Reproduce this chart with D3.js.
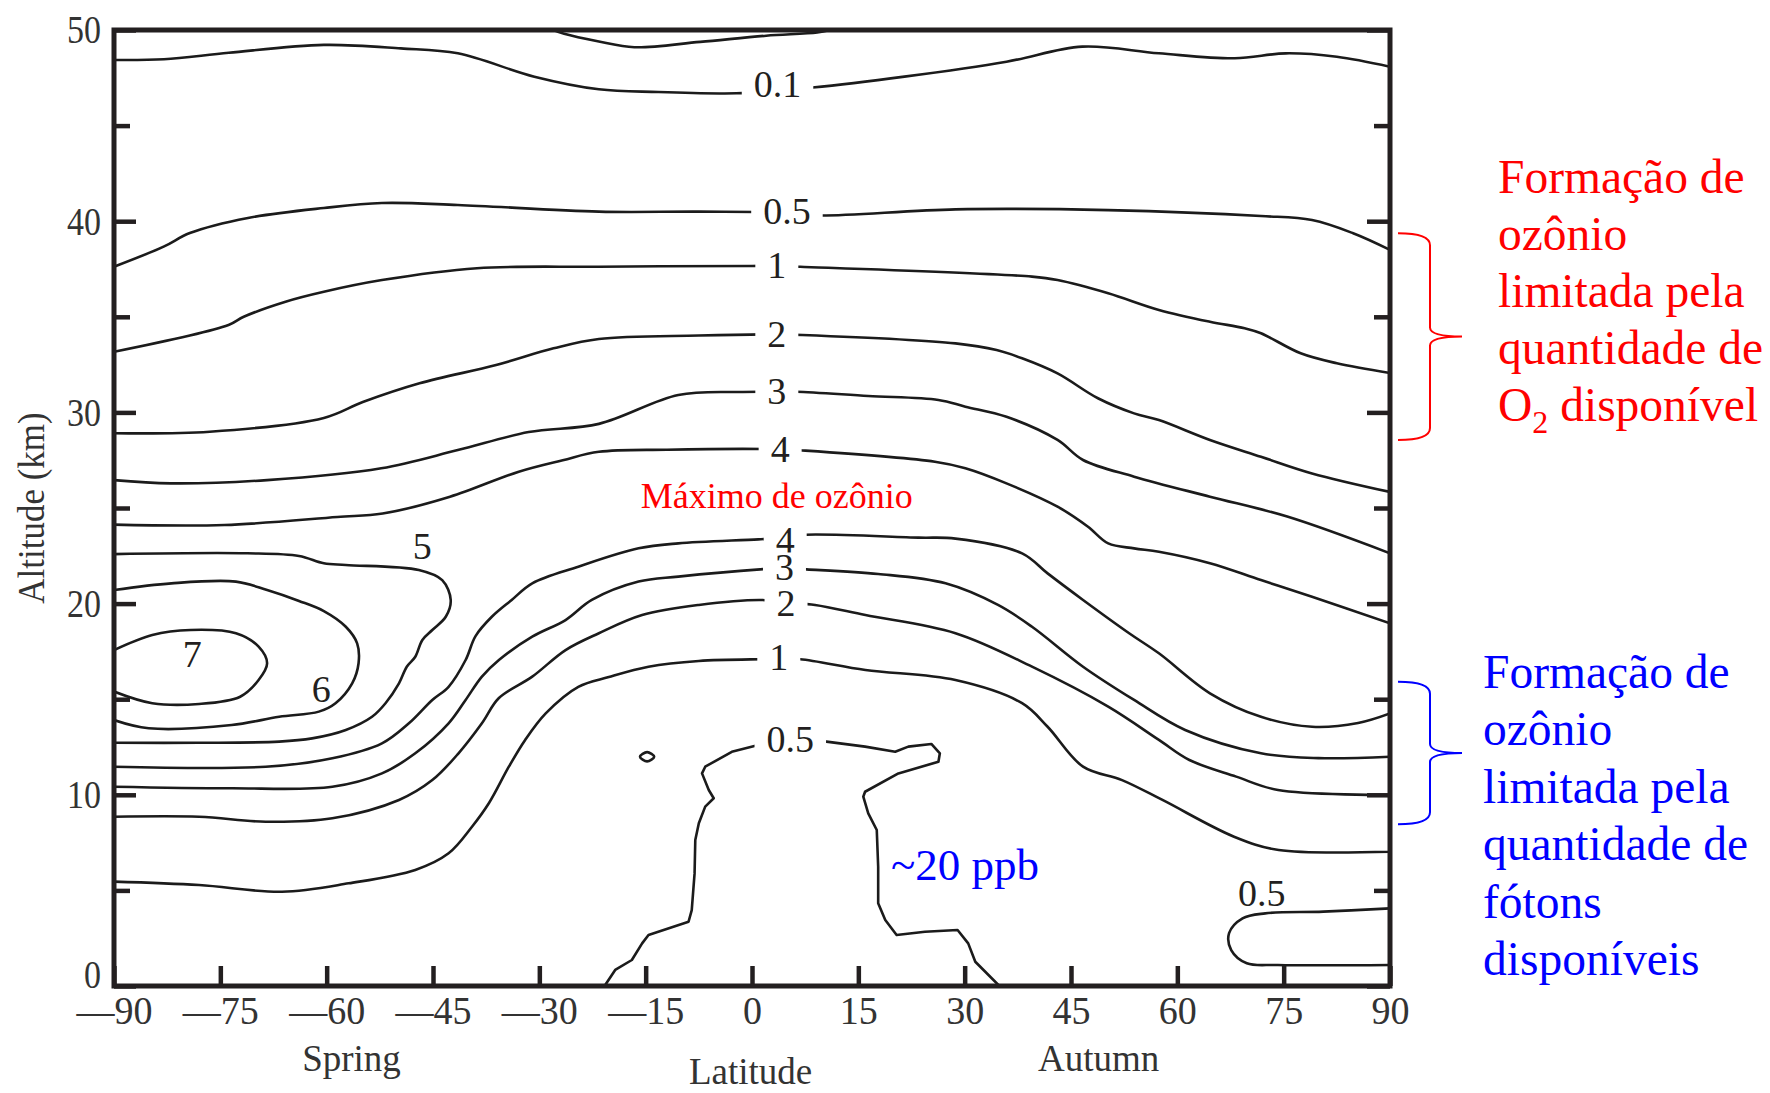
<!DOCTYPE html>
<html>
<head>
<meta charset="utf-8">
<script src="https://cdn.jsdelivr.net/npm/d3@7"></script>
<style>
  body { margin: 0; background: #fff; }
  svg { display: block; font-family: "Liberation Serif", "Times New Roman", serif; }
</style>
</head>
<body>
<div id="chart"></div>
<script>
// ozone mixing ratio contours (ppm) — latitude vs altitude
// every contour is a list of [latitude, altitude km]

const latTicks = [-90, -75, -60, -45, -30, -15, 0, 15, 30, 45, 60, 75, 90];
const altTicks = [0, 10, 20, 30, 40, 50];
const altMinorTicks = [5, 15, 25, 35, 45];

const topArc = [[-28, 50], [-26.5, 49.8], [-21.6, 49.4], [-16.6, 49.1], [-7.3, 49.38], [2, 49.7], [9.2, 49.87], [11, 50]];

const c01 = [[-90, 48.43], [-82.95, 48.47], [-73.8, 48.81], [-60.4, 49.22], [-49.55, 49.04], [-41.5, 48.78],
  [-30.7, 47.56], [-21.6, 46.9], [-13.2, 46.76], [-2.2, 46.69], [3.6, 46.85], [8.55, 46.99], [21.5, 47.56],
  [35.9, 48.34], [46.6, 49.13], [57.4, 48.78], [68.1, 48.52], [75.3, 48.78], [82.5, 48.6], [90, 48.08]];

const c05 = [[-90, 37.62], [-83.0, 38.67], [-79.3, 39.38], [-71.1, 40.17], [-60.4, 40.69], [-52.2, 40.95],
  [-41.5, 40.85], [-21.6, 40.5], [-7.5, 40.5], [5.0, 40.45], [9.2, 40.3], [28.7, 40.62], [50.25, 40.58],
  [71.8, 40.27], [79.0, 40.06], [84.8, 39.37], [90, 38.5]];

const c1 = [[-90, 33.17], [-73.85, 34.57], [-71.7, 35.0], [-65.8, 35.79], [-60.4, 36.31], [-52.2, 36.92],
  [-38.8, 37.54], [-21.6, 37.62], [0, 37.66], [3.5, 37.66], [6.8, 37.62], [39.5, 37.1], [43.1, 36.92],
  [50.25, 36.23], [57.4, 35.36], [64.6, 34.74], [69.5, 34.4], [71.8, 34.14], [77.4, 33.09], [82.5, 32.57], [90, 32.06]];

const c2 = [[-90, 28.91], [-76.5, 28.99], [-60.4, 29.71], [-54.9, 30.54], [-46.9, 31.52], [-36.1, 32.48],
  [-28.0, 33.35], [-21.6, 33.84], [-7.5, 34.02], [3.5, 34.08], [7.1, 34.05], [28.7, 33.61], [34.5, 33.26],
  [38.1, 32.83], [43.1, 32.04], [48.8, 30.74], [53.9, 29.95], [57.4, 29.6], [64.6, 28.56], [71.8, 27.68],
  [79.0, 26.81], [90, 25.84]];

const c3 = [[-90, 26.46], [-82.0, 26.29], [-68.4, 26.46], [-52.3, 27.08], [-41.5, 28.03], [-31.5, 28.97],
  [-21.6, 29.4], [-10.4, 30.91], [-1.9, 31.07], [3.5, 31.08], [6.3, 31.08], [16.4, 30.86], [26.3, 30.65],
  [30.1, 30.3], [35.9, 29.77], [43.1, 28.56], [46.7, 27.51], [53.9, 26.64], [64.6, 25.59], [75.5, 24.55], [90, 22.63]];

const c4Upper = [[-90, 24.13], [-74.4, 24.11], [-58.5, 24.53], [-52.1, 24.71], [-42.6, 25.59], [-32.9, 26.9],
  [-26.7, 27.5], [-21.6, 27.94], [-12, 28.05], [4.0, 28.07], [7.1, 28.01], [25.8, 27.42], [30.1, 27.08],
  [35.9, 26.29], [43.1, 25.07], [47.4, 24.02], [50.25, 23.15], [53.9, 22.89], [57.4, 22.71], [64.6, 22.11],
  [71.8, 21.23], [79.0, 20.36], [90, 18.97]];

const c4Lower = [[-90, 11.47], [-68.6, 11.47], [-59.2, 11.91], [-52.2, 12.69], [-48.4, 13.74], [-45.1, 14.96],
  [-42.8, 15.65], [-40.4, 17.05], [-39.0, 18.3], [-36.7, 19.31], [-33.9, 20.19], [-31.0, 21.06], [-24.5, 21.93],
  [-16.0, 22.89], [-10.4, 23.15], [0.9, 23.36], [4.7, 23.45], [7.3, 23.6], [23.5, 23.45], [28.7, 23.4],
  [38.1, 22.63], [41.7, 21.58], [46.7, 20.19], [53.2, 18.45], [57.4, 17.4], [64.6, 15.31], [71.8, 14.08],
  [79.0, 13.56], [85.5, 13.76], [90, 14.26]];

const c3Lower = [[-90, 10.42], [-73.4, 10.34], [-59.2, 10.42], [-52.2, 11.12], [-47.5, 12.17], [-42.8, 13.74],
  [-40.4, 14.96], [-38.1, 16.18], [-35.7, 17.05], [-31.0, 18.27], [-26.3, 19.14], [-22.6, 20.19], [-16.0, 21.15],
  [-10.4, 21.41], [1.15, 21.79], [4.5, 21.85], [7.7, 21.79], [17.8, 21.55], [27.3, 21.06], [34.7, 19.93],
  [39.5, 18.79], [46.7, 16.7], [53.9, 14.96], [61.1, 13.39], [71.8, 12.17], [79.9, 11.92], [90, 11.99]];

const c2Lower = [[-90, 8.85], [-78.0, 8.85], [-68.6, 8.59], [-59.2, 8.77], [-49.8, 9.73], [-45.1, 10.77],
  [-41.4, 12.17], [-38.1, 13.74], [-35.7, 15.06], [-31.0, 16.18], [-26.3, 17.57], [-21.6, 18.45], [-15.5, 19.4],
  [-7.5, 19.93], [1.4, 20.19], [4.8, 20.05], [8.9, 19.93], [16.0, 19.4], [28.7, 18.45], [39.5, 16.7],
  [50.25, 14.61], [57.4, 12.87], [61.7, 11.82], [68.3, 10.95], [74.2, 10.25], [90, 9.99]];

const c1Lower = [[-90, 5.46], [-78.0, 5.28], [-66.3, 4.93], [-56.9, 5.37], [-47.5, 6.07], [-42.8, 6.94],
  [-39.5, 8.33], [-37.1, 9.57], [-34.3, 11.47], [-32.0, 12.87], [-29.1, 14.26], [-24.5, 15.65], [-20.2, 16.16],
  [-14.6, 16.7], [-7.5, 17.0], [1.4, 17.09], [3.8, 17.1], [6.8, 17.09], [16.0, 16.53], [28.7, 16.0],
  [38.1, 14.79], [41.7, 13.56], [46.7, 11.47], [52.2, 10.77], [57.9, 9.73], [68.0, 7.81], [74.3, 7.11], [90, 7.02]];

const c5 = [[-90, 22.59], [-71.2, 22.63], [-63.9, 22.49], [-60.4, 22.11], [-57.3, 22.02], [-47.0, 21.76],
  [-43.7, 21.23], [-42.5, 20.19], [-43.2, 19.31], [-45.1, 18.62], [-46.5, 18.1], [-47.5, 17.22], [-48.7, 16.7],
  [-49.8, 15.83], [-51.7, 14.79], [-53.6, 14.08], [-57.3, 13.39], [-62.05, 12.95], [-66.7, 12.78],
  [-78.0, 12.72], [-90, 12.72]];

const c6 = [[-90, 20.71], [-81.9, 21.06], [-72.8, 21.15], [-68.4, 20.71], [-63.9, 20.14], [-60.4, 19.61],
  [-57.3, 18.79], [-55.7, 17.92], [-55.5, 16.88], [-56.4, 15.83], [-58.75, 14.79], [-61.1, 14.35],
  [-66.7, 14.08], [-73.4, 13.65], [-85.1, 13.48], [-90, 13.91]];

const c7 = [[-90, 17.57], [-84.6, 18.36], [-79.2, 18.62], [-72.8, 18.45], [-69.6, 17.75], [-68.4, 16.88],
  [-69.6, 16.0], [-72.2, 15.13], [-78.0, 14.75], [-84.6, 14.79], [-90, 15.4]];

// tropical 0.5 tongue, drawn with kinks as in the figure
const c05Tropics = [[-20.8, 0], [-19.3, 0.84], [-16.95, 1.36], [-15.5, 2.23], [-14.6, 2.67], [-8.95, 3.36],
  [-8.5, 3.97], [-8.1, 5.89], [-8.0, 7.64], [-7.5, 8.51], [-6.6, 9.38], [-5.4, 9.82], [-6.1, 10.25],
  [-7.05, 11.12], [-6.6, 11.47], [-2.85, 12.25], [0.9, 12.6], [5.4, 12.9], [10.5, 12.78], [15.95, 12.52],
  [20.2, 12.25], [22.05, 12.52], [25.3, 12.66], [26.5, 12.17], [26.3, 11.73], [20.65, 11.12], [15.95, 10.16],
  [15.7, 9.9], [16.4, 9.03], [17.6, 8.16], [17.8, 6.24], [17.8, 4.33], [18.8, 3.45], [20.4, 2.67],
  [24.4, 2.84], [29.0, 2.93], [30.5, 2.23], [31.5, 1.27], [34.9, 0]];

const c05Arctic = [[90, 4.06], [80.6, 3.89], [72.4, 3.8], [69.2, 3.54], [67.3, 2.76], [67.6, 1.88],
  [69.8, 1.19], [74.2, 1.1], [90, 1.1]];

const blob = [[-15.8, 11.99], [-14.8, 12.23], [-13.8, 11.99], [-14.8, 11.75]];

// labels sitting inside a gap of their contour
const gapLabels = [
  { text: "0.1", lat: 3.6, alt: 47.16 },
  { text: "0.5", lat: 4.93, alt: 40.54 },
  { text: "1", lat: 3.5, alt: 37.71 },
  { text: "2", lat: 3.5, alt: 34.09 },
  { text: "3", lat: 3.5, alt: 31.13 },
  { text: "4", lat: 3.97, alt: 28.07 },
  { text: "4", lat: 4.68, alt: 23.33 },
  { text: "3", lat: 4.58, alt: 21.89 },
  { text: "2", lat: 4.8, alt: 20.02 },
  { text: "1", lat: 3.78, alt: 17.18 },
  { text: "0.5", lat: 5.4, alt: 12.91 }
];
// labels beside their contour
const freeLabels = [
  { text: "5", lat: -46.5, alt: 23.02 },
  { text: "6", lat: -60.75, alt: 15.53 },
  { text: "7", lat: -78.95, alt: 17.35 },
  { text: "0.5", lat: 71.9, alt: 4.85 }
];

const redLines = ["Formação de", "ozônio", "limitada pela", "quantidade de"];
const redLastLine = ["O", "2", " disponível"];
const blueLines = ["Formação de", "ozônio", "limitada pela", "quantidade de", "fótons", "disponíveis"];
const redBrace = [28.56, 39.37];   // km span
const blueBrace = [8.46, 15.91];
const seasons = [["Spring", -56.5], ["Autumn", 48.9]];

const W = 1770, H = 1093;
const plot = { left: 114, right: 1390, top: 30, bottom: 986 };
const ink = "#231f20";
const serif = "'Liberation Serif', 'Times New Roman', serif";

const x = d3.scaleLinear().domain([-90, 90]).range([plot.left, plot.right]);
const y = d3.scaleLinear().domain([0, 50]).range([plot.bottom, plot.top]);

const svg = d3.select("#chart").append("svg")
  .attr("width", W).attr("height", H)
  .attr("font-family", serif);

svg.append("defs").append("clipPath").attr("id", "plot-clip")
  .append("rect")
  .attr("x", plot.left).attr("y", plot.top)
  .attr("width", plot.right - plot.left).attr("height", plot.bottom - plot.top);

// squeeze a text horizontally, the figure uses a narrow face
function condense(sel, f) {
  sel.each(function () {
    const len = this.getComputedTextLength();
    d3.select(this).attr("textLength", len * f).attr("lengthAdjust", "spacingAndGlyphs");
  });
}

// --- contours ---
const smooth = d3.line().x((d) => x(d[0])).y((d) => y(d[1])).curve(d3.curveCatmullRom.alpha(0.5));
const jagged = d3.line().x((d) => x(d[0])).y((d) => y(d[1])).curve(d3.curveLinear);
const closed = d3.line().x((d) => x(d[0])).y((d) => y(d[1])).curve(d3.curveCatmullRomClosed.alpha(0.5));

const lineG = svg.append("g")
  .attr("clip-path", "url(#plot-clip)")
  .attr("fill", "none")
  .attr("stroke", "#1b1b1b")
  .attr("stroke-width", 2.6)
  .attr("stroke-linejoin", "round");

[topArc, c01, c05, c1, c2, c3, c4Upper, c4Lower, c3Lower, c2Lower, c1Lower, c5, c6, c7, c05Arctic]
  .forEach((pts) => lineG.append("path").attr("d", smooth(pts)));
lineG.append("path").attr("d", jagged(c05Tropics));
lineG.append("path").attr("d", closed(blob));

// --- contour labels ---
const labelG = svg.append("g")
  .attr("font-size", 38)
  .attr("fill", ink)
  .attr("text-anchor", "middle");

gapLabels.forEach((l) => {
  const t = labelG.append("text")
    .attr("x", x(l.lat)).attr("y", y(l.alt)).attr("dy", "0.34em")
    .text(l.text);
  const w = t.node().getComputedTextLength();
  labelG.insert("rect", () => t.node())
    .attr("x", x(l.lat) - w / 2 - 12).attr("y", y(l.alt) - 15)
    .attr("width", w + 24).attr("height", 30)
    .attr("fill", "#fff");
});

freeLabels.forEach((l) => {
  labelG.append("text")
    .attr("x", x(l.lat)).attr("y", y(l.alt)).attr("dy", "0.34em")
    .text(l.text);
});

// "Máximo de ozônio" with white patch behind
const maxG = svg.append("g");
const maxText = maxG.append("text")
  .attr("x", x(3.5)).attr("y", y(25.0))
  .attr("text-anchor", "middle")
  .attr("font-family", serif)
  .attr("font-size", 36)
  .attr("fill", "#ff0000")
  .text("Máximo de ozônio");
const mb = maxText.node().getBBox();
maxG.insert("rect", "text")
  .attr("x", mb.x - 24).attr("y", mb.y - 10)
  .attr("width", mb.width + 48).attr("height", mb.height + 12)
  .attr("fill", "#fff");

svg.append("text")
  .attr("x", x(19.6)).attr("y", y(5.54))
  .attr("font-family", serif)
  .attr("font-size", 45)
  .attr("fill", "#0000ff")
  .text("~20 ppb");

// --- frame and axes ---
svg.append("rect")
  .attr("x", plot.left).attr("y", plot.top)
  .attr("width", plot.right - plot.left).attr("height", plot.bottom - plot.top)
  .attr("fill", "none").attr("stroke", ink).attr("stroke-width", 5);

function styleAxis(g, size) {
  g.select(".domain").remove();
  g.attr("color", ink).attr("font-family", serif).attr("font-size", size);
  g.selectAll(".tick line").attr("stroke-width", 4.5);
  g.selectAll(".tick text").attr("fill", "#333");
}

const yMajor = svg.append("g")
  .attr("transform", `translate(${plot.left},0)`)
  .call(d3.axisLeft(y).tickValues(altTicks).tickSize(-22).tickPadding(13).tickFormat(d3.format("d")))
  .call((g) => styleAxis(g, 40));
// the zero sits a little above its tick, clear of the "—90"
yMajor.selectAll(".tick text").filter((d) => d === 0).attr("y", -11);
condense(yMajor.selectAll(".tick text"), 0.85);

svg.append("g")
  .attr("transform", `translate(${plot.left},0)`)
  .call(d3.axisLeft(y).tickValues(altMinorTicks).tickSize(-16).tickFormat(""))
  .call((g) => styleAxis(g, 10));

svg.append("g")
  .attr("transform", `translate(${plot.right},0)`)
  .call(d3.axisRight(y).tickValues(altTicks).tickSize(-23).tickFormat(""))
  .call((g) => styleAxis(g, 10));

svg.append("g")
  .attr("transform", `translate(${plot.right},0)`)
  .call(d3.axisRight(y).tickValues(altMinorTicks).tickSize(-16).tickFormat(""))
  .call((g) => styleAxis(g, 10));

const xAxis = svg.append("g")
  .attr("transform", `translate(0,${plot.bottom})`)
  .call(d3.axisBottom(x).tickValues(latTicks).tickSize(-20).tickPadding(10)
    .tickFormat((d) => (d < 0 ? "\u2014" + Math.abs(d) : d)))
  .call((g) => styleAxis(g, 40));
condense(xAxis.selectAll(".tick text"), 0.95);

// axis titles
svg.append("text")
  .attr("transform", `translate(44,${(plot.top + plot.bottom) / 2}) rotate(-90)`)
  .attr("text-anchor", "middle")
  .attr("font-size", 38)
  .attr("fill", "#333")
  .text("Altitude (km)")
  .call((t) => condense(t, 0.92));

svg.append("text")
  .attr("x", x(-0.2)).attr("y", 1084)
  .attr("text-anchor", "middle")
  .attr("font-size", 37)
  .attr("fill", "#333")
  .text("Latitude");

seasons.forEach(([s, lat]) => {
  svg.append("text")
    .attr("x", x(lat)).attr("y", 1071)
    .attr("text-anchor", "middle")
    .attr("font-size", 37)
    .attr("fill", "#333")
    .text(s);
});

// --- side notes with braces ---
function brace(span, color) {
  const x0 = plot.right + 8, x1 = x0 + 32, xp = x0 + 64;
  const yTop = y(span[1]), yBot = y(span[0]), yMid = (yTop + yBot) / 2;
  const p = d3.path();
  p.moveTo(x0, yTop);
  p.quadraticCurveTo(x1, yTop, x1, yTop + 12);
  p.lineTo(x1, yMid - 9);
  p.quadraticCurveTo(x1, yMid, xp, yMid);
  p.quadraticCurveTo(x1, yMid, x1, yMid + 9);
  p.lineTo(x1, yBot - 12);
  p.quadraticCurveTo(x1, yBot, x0, yBot);
  svg.append("path").attr("d", p.toString())
    .attr("fill", "none").attr("stroke", color).attr("stroke-width", 2);
}
brace(redBrace, "#ff0000");
brace(blueBrace, "#0000ff");

const redText = svg.append("text")
  .attr("font-family", serif)
  .attr("font-size", 47.5)
  .attr("fill", "#ff0000");
redLines.forEach((s, i) => {
  redText.append("tspan").attr("x", 1498).attr("y", 193 + i * 57).text(s);
});
const last = redText.append("tspan").attr("x", 1498).attr("y", 193 + redLines.length * 57);
last.append("tspan").text(redLastLine[0]);
last.append("tspan").attr("font-size", 32).attr("dy", 12).text(redLastLine[1]);
last.append("tspan").attr("dy", -12).text(redLastLine[2]);

const blueText = svg.append("text")
  .attr("font-family", serif)
  .attr("font-size", 47.5)
  .attr("fill", "#0000ff");
blueLines.forEach((s, i) => {
  blueText.append("tspan").attr("x", 1483).attr("y", 688 + i * 57.4).text(s);
});
</script>
</body>
</html>
